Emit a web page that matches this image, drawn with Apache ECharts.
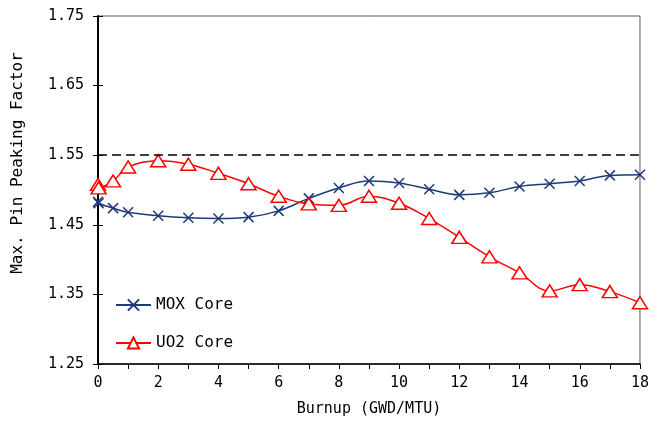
<!DOCTYPE html>
<html>
<head>
<meta charset="utf-8">
<script src="https://cdn.jsdelivr.net/npm/echarts@6/dist/echarts.min.js"></script>
<style>
  html, body { margin: 0; padding: 0; background: #fff; }
  #chart { width: 652px; height: 429px; }
</style>
</head>
<body>
<div id="chart"></div>
<script>
// burnup steps (GWD/MTU)
var burnup = [0, 0.02, 0.5, 1, 2, 3, 4, 5, 6, 7, 8, 9, 10, 11, 12, 13, 14, 15, 16, 17, 18];
var moxCore = [1.483, 1.481, 1.474, 1.468, 1.463, 1.460, 1.459, 1.461, 1.470, 1.488, 1.503, 1.513, 1.510, 1.501, 1.493, 1.496, 1.505, 1.509, 1.513, 1.521, 1.522];
var uo2Core = [1.508, 1.503, 1.513, 1.533, 1.542, 1.537, 1.524, 1.509, 1.491, 1.480, 1.478, 1.491, 1.481, 1.459, 1.432, 1.404, 1.381, 1.355, 1.364, 1.354, 1.338];
var limitValue = 1.55;

var font = 'DejaVu Sans Mono';

function pairs(xs, ys) {
    return xs.map(function (x, i) { return [x, ys[i]]; });
}

var chart = echarts.init(document.getElementById('chart'));
chart.setOption({
    animation: false,
    grid: {
        left: 98, right: 8, top: 16, bottom: 65,
        show: true,
        borderColor: '#595959',
        borderWidth: 1
    },
    legend: {
        orient: 'vertical',
        left: 110,
        top: 292,
        itemWidth: 35,
        itemHeight: 14,
        itemGap: 22,
        textStyle: { fontFamily: font, fontSize: 16, color: '#000' },
        data: ['MOX Core', 'UO2 Core']
    },
    xAxis: {
        type: 'value',
        min: 0,
        max: 18,
        interval: 2,
        name: 'Burnup (GWD/MTU)',
        nameLocation: 'middle',
        nameGap: 38,
        nameTextStyle: { fontFamily: font, fontSize: 15, color: '#000' },
        axisLine: { lineStyle: { color: '#000', width: 1.5 } },
        axisTick: { length: 5, lineStyle: { color: '#000' } },
        minorTick: { show: true, splitNumber: 2, length: 5, lineStyle: { color: '#000' } },
        splitLine: { show: false },
        axisLabel: { fontFamily: font, fontSize: 15, color: '#000', margin: 12 }
    },
    yAxis: [
        {
            type: 'value',
            min: 1.25,
            max: 1.75,
            interval: 0.1,
            name: 'Max. Pin Peaking Factor',
            nameLocation: 'middle',
            nameGap: 72,
            nameTextStyle: { fontFamily: font, fontSize: 16, color: '#000', padding: [0, 0, 0, 54] },
            axisLine: { show: true, lineStyle: { color: '#000', width: 2 } },
            axisTick: { show: true, length: 5, lineStyle: { color: '#000' } },
            splitLine: { show: false },
            axisLabel: {
                fontFamily: font, fontSize: 15, color: '#000', margin: 14,
                formatter: function (v) { return v.toFixed(2); }
            }
        },
        {
            // inner half of the crossing ticks
            type: 'value',
            position: 'left',
            min: 1.25,
            max: 1.75,
            interval: 0.1,
            axisLine: { show: false },
            axisTick: { show: true, inside: true, length: 5, lineStyle: { color: '#000' } },
            axisLabel: { show: false },
            splitLine: { show: false }
        }
    ],
    series: [
        {
            name: 'MOX Core',
            type: 'line',
            smooth: 0.4,
            data: pairs(burnup, moxCore),
            symbol: 'path://M0,0L10,10M10,0L0,10',
            symbolSize: 10,
            lineStyle: { color: '#1F3A78', width: 1.5 },
            itemStyle: { color: '#1F3A78', borderColor: '#1F3A78', borderWidth: 1.5 },
            markLine: {
                silent: true,
                symbol: 'none',
                label: { show: false },
                lineStyle: { color: '#000', type: [9, 5], width: 1.5 },
                data: [{ yAxis: limitValue }]
            }
        },
        {
            name: 'UO2 Core',
            type: 'line',
            smooth: 0.4,
            data: pairs(burnup, uo2Core),
            symbol: 'triangle',
            symbolSize: [15, 12],
            lineStyle: { color: '#FF0000', width: 1.5 },
            itemStyle: { color: '#fff', borderColor: '#FF0000', borderWidth: 1.5 }
        }
    ]
});
</script>
</body>
</html>
